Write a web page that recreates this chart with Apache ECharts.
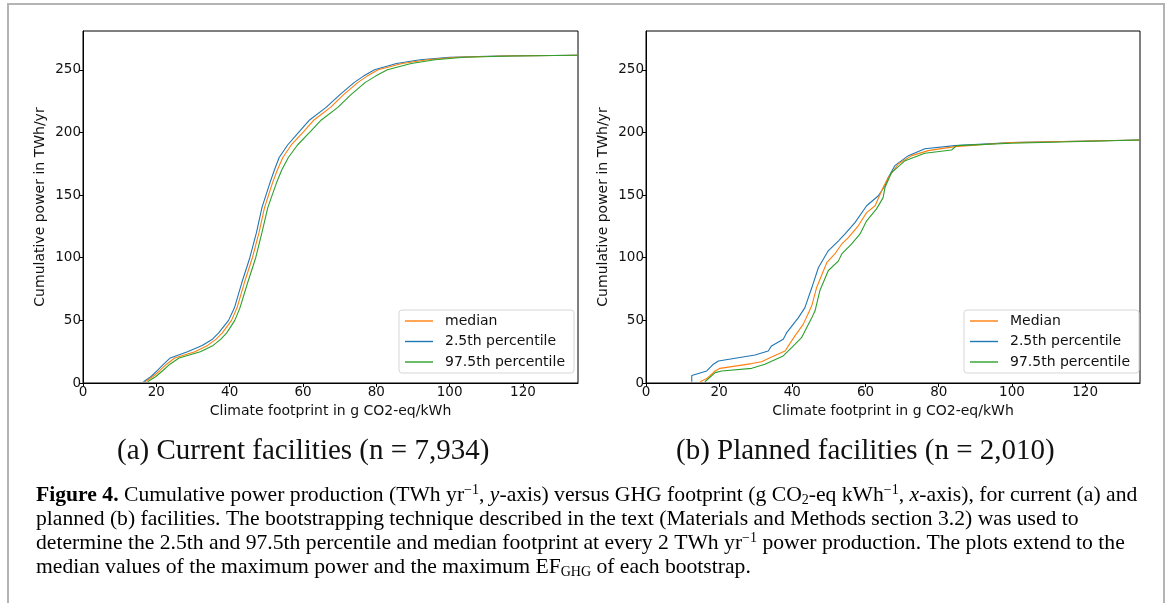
<!DOCTYPE html>
<html>
<head>
<meta charset="utf-8">
<script src="https://cdn.jsdelivr.net/npm/echarts@6/dist/echarts.min.js"></script>
<style>
  html, body { margin: 0; padding: 0; background: #fff; }
  #chart { width: 1168px; height: 603px; }
</style>
</head>
<body>
<div id="chart"></div>
<script>
// (a) current facilities: footprint (x) at each cumulative power level (y)
const powerA = [1, 5, 10, 15, 20, 25, 30, 35, 40, 50, 60, 80, 100, 120, 140, 160, 170, 180, 190, 200, 210, 220, 230, 240, 245, 250, 255, 258, 260, 261, 261.7]
const medianA = [16.9, 19, 21, 22.8, 25, 30.5, 34, 36.3, 38, 40.5, 42, 44, 46.2, 48, 49.5, 51.7, 53, 54.5, 56.8, 60, 63, 67.5, 71, 75, 77.5, 80.5, 87, 94, 102, 115, 135]
const p025A = [16.5, 18.5, 20.3, 22, 23.8, 28.5, 32.5, 35.3, 37, 39.7, 41.3, 43.3, 45.5, 47.3, 48.8, 51, 52.2, 53.5, 55.8, 58.8, 61.8, 66.3, 70, 74, 76.5, 79.5, 85.5, 92, 100, 113, 135]
const p975A = [17.6, 19.8, 21.8, 23.7, 26.2, 32, 35.5, 37.6, 39.2, 41.4, 42.8, 44.9, 47.1, 48.8, 50.4, 52.8, 54.2, 56, 58.5, 61.8, 65, 69.5, 73, 77, 79.8, 83, 89.5, 96, 104, 117, 135]

// (b) planned facilities
const p025Bx = [12.5, 12.5, 16.6, 18.4, 19.8, 29.8, 33.4, 34.3, 37.5, 38.4, 41.6, 43.4, 45.3, 47.1, 49.8, 52.6, 54.4, 57.1, 60.3, 63.5, 65.3, 66.2, 68, 71.7, 76.2, 84.4, 99.9, 135]
const p025By = [1, 6, 9.6, 15, 17.6, 22.4, 25.6, 29.6, 35, 40, 52, 60, 76, 92, 105.5, 113.5, 119, 128, 141.5, 149.5, 157.5, 164, 173.5, 181.5, 187, 189.5, 192, 194]
const medianBx = [14.8, 16.6, 18.9, 20.2, 28.9, 31.6, 34.3, 38, 40.7, 43, 45.3, 46.6, 48.5, 49.4, 51.6, 53.5, 55.3, 58, 60.3, 62.6, 64.8, 66.2, 69, 72.6, 77.1, 84.4, 99.9, 135]
const medianBy = [1, 3.5, 9.6, 11.7, 15.5, 17, 20.8, 25.6, 37.6, 47, 61.6, 76, 89.6, 96, 103, 111, 116, 125.5, 136, 141.5, 156, 164, 175, 181.5, 185.5, 188.7, 192, 194]
const p975Bx = [16.1, 18.9, 20.7, 28.9, 32.5, 37.5, 39.8, 42.5, 45.3, 46.2, 47.5, 49.8, 52.6, 53.5, 56.2, 58.5, 60.3, 63, 64.8, 65.3, 67.1, 70.8, 76.2, 83.5, 84.9, 99.9, 135]
const p975By = [1, 8.3, 9.6, 11.7, 15, 21.6, 28.3, 36.2, 52, 57.6, 73.6, 89.6, 97.5, 103, 111, 119, 129.5, 139, 148, 156, 168, 177.5, 183.4, 186, 189.5, 191.4, 194]

const xTicks = [0, 20, 40, 60, 80, 100, 120]
const yTicks = [0, 50, 100, 150, 200, 250]

const blue = '#1f77b4'
const orange = '#ff7f0e'
const green = '#2ca02c'
const sans = 'DejaVu Sans'
const serif = 'Liberation Serif'

function pairs(xs, ys) {
  return xs.map((x, i) => [x, ys[i]])
}

function lineSeries(name, color, data, idx) {
  return {
    name: name,
    type: 'line',
    xAxisIndex: idx,
    yAxisIndex: idx,
    data: data,
    symbol: 'none',
    animation: false,
    lineStyle: { color: color, width: 1.1 },
    itemStyle: { color: color }
  }
}

function xAxisOf(idx) {
  return {
    type: 'value',
    gridIndex: idx,
    min: 0,
    max: 135,
    interval: 20,
    name: 'Climate footprint in g CO2-eq/kWh',
    nameLocation: 'middle',
    nameGap: 20,
    nameTextStyle: { fontFamily: sans, fontSize: 14, color: '#111' },
    axisLine: { lineStyle: { color: '#000', width: 1 } },
    axisTick: { length: 4, lineStyle: { color: '#000' } },
    axisLabel: {
      fontFamily: sans, fontSize: 13.5, color: '#111', margin: 2, showMaxLabel: false,
      formatter: v => xTicks.includes(v) ? String(v) : ''
    },
    splitLine: { show: false }
  }
}

function yAxisOf(idx) {
  return {
    type: 'value',
    gridIndex: idx,
    min: 0,
    max: 281,
    interval: 50,
    name: 'Cumulative power in TWh/yr',
    nameLocation: 'middle',
    nameGap: 36,
    nameRotate: 90,
    nameTextStyle: { fontFamily: sans, fontSize: 14, color: '#111' },
    axisLine: { show: true, lineStyle: { color: '#000', width: 1 } },
    axisTick: { show: true, length: 4, lineStyle: { color: '#000' } },
    axisLabel: {
      fontFamily: sans, fontSize: 13.5, color: '#111', margin: 2, showMaxLabel: false,
      formatter: v => yTicks.includes(v) ? String(v) : ''
    },
    splitLine: { show: false }
  }
}

function legendOf(left, names) {
  return {
    orient: 'vertical',
    left: left,
    top: 310,
    data: names,
    icon: 'path://M0,0H28V1.4H0Z',
    itemWidth: 28,
    itemHeight: 14,
    itemGap: 6.5,
    padding: [4, 9, 4, 6],
    borderColor: '#d6d6d6',
    borderWidth: 1,
    borderRadius: 3,
    backgroundColor: 'rgba(255,255,255,0.8)',
    selectedMode: false,
    textStyle: { fontFamily: sans, fontSize: 14, color: '#111', padding: [0, 0, 0, 7] }
  }
}

const chart = echarts.init(document.getElementById('chart'), null, { renderer: 'canvas' })

const fs = 21.65
const capRich = {
  n: { fontFamily: serif, fontSize: fs, color: '#111', lineHeight: 24 },
  b: { fontFamily: serif, fontSize: fs, color: '#111', fontWeight: 'bold', lineHeight: 24 },
  i: { fontFamily: serif, fontSize: fs, color: '#111', fontStyle: 'italic', lineHeight: 24 },
  sup: { fontFamily: serif, fontSize: 14, color: '#111', lineHeight: 16, verticalAlign: 'top' },
  sub: { fontFamily: serif, fontSize: 14, color: '#111', lineHeight: 14, verticalAlign: 'bottom' },
  link: { fontFamily: serif, fontSize: fs, color: '#2a8fc4', lineHeight: 24 }
}

const caption =
  '{b|Figure 4.}{n| Cumulative power production (TWh yr}{sup|−1}{n|, }{i|y}{n|-axis) versus GHG footprint (g CO}{sub|2}{n|-eq kWh}{sup|−1}{n|, }{i|x}{n|-axis), for current (a) and}\n' +
  '{n|planned (b) facilities. The bootstrapping technique described in the text (Materials and Methods section }{link|3.2}{n|) was used to}\n' +
  '{n|determine the 2.5th and 97.5th percentile and median footprint at every 2 TWh yr}{sup|−1}{n| power production. The plots extend to the}\n' +
  '{n|median values of the maximum power and the maximum EF}{sub|GHG}{n| of each bootstrap.}'

chart.setOption({
  backgroundColor: '#fff',
  animation: false,
  grid: [
    { left: 83, top: 31, width: 495, height: 352, show: true, borderColor: '#000', borderWidth: 1 },
    { left: 646, top: 31, width: 494, height: 352, show: true, borderColor: '#000', borderWidth: 1 }
  ],
  xAxis: [xAxisOf(0), xAxisOf(1)],
  yAxis: [yAxisOf(0), yAxisOf(1)],
  legend: [
    legendOf(399, ['median', '2.5th percentile', '97.5th percentile']),
    legendOf(964, ['Median', '2.5th percentile', '97.5th percentile'])
  ],
  series: [
    lineSeries('2.5th percentile', blue, pairs(p025A, powerA), 0),
    lineSeries('median', orange, pairs(medianA, powerA), 0),
    lineSeries('97.5th percentile', green, pairs(p975A, powerA), 0),
    lineSeries('2.5th percentile', blue, pairs(p025Bx, p025By), 1),
    lineSeries('Median', orange, pairs(medianBx, medianBy), 1),
    lineSeries('97.5th percentile', green, pairs(p975Bx, p975By), 1)
  ],
  graphic: [
    {
      type: 'polyline',
      shape: { points: [[8, 610], [8, 4], [1164, 4], [1164, 610]] },
      style: { stroke: '#b4b4b4', lineWidth: 2, fill: null },
      silent: true
    },
    {
      type: 'text', left: 117, top: 437,
      style: { text: '(a) Current facilities (n = 7,934)', fontFamily: serif, fontSize: 29, fill: '#111' }
    },
    {
      type: 'text', left: 676, top: 437,
      style: { text: '(b) Planned facilities (n = 2,010)', fontFamily: serif, fontSize: 29, fill: '#111' }
    },
    {
      type: 'text', left: 36, top: 483,
      style: { text: caption, rich: capRich }
    }
  ]
})
</script>
</body>
</html>
